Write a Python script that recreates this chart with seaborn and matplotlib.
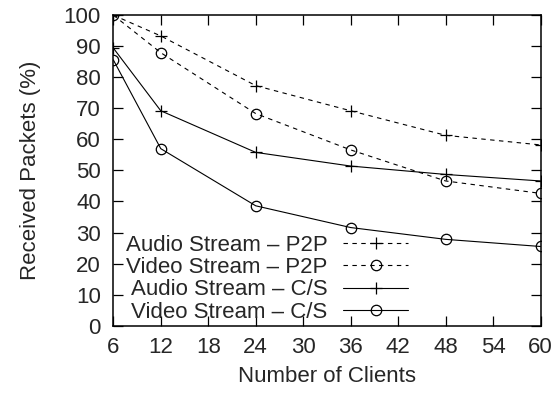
import matplotlib
matplotlib.use("Agg")
import matplotlib.pyplot as plt
import seaborn as sns
import pandas as pd

clients = [6, 12, 24, 36, 48, 60]
audio_p2p = [100, 93.3, 77.3, 69.2, 61.3, 58.2]
video_p2p = [100, 87.9, 68.3, 56.6, 46.6, 42.6]
audio_cs = [89.4, 69.2, 55.8, 51.4, 48.7, 46.6]
video_cs = [85.6, 57.0, 38.6, 31.6, 27.8, 25.5]
labels = ["Audio Stream \u2013 P2P", "Video Stream \u2013 P2P",
          "Audio Stream \u2013 C/S", "Video Stream \u2013 C/S"]
xticks = [6, 12, 18, 24, 30, 36, 42, 48, 54, 60]
yticks = list(range(0, 101, 10))

sns.set_style("ticks")
plt.rcParams['font.family'] = ['Liberation Sans', 'DejaVu Sans']
plt.rcParams['font.size'] = 16

fig = plt.figure(figsize=(5.59, 3.98), dpi=100)
ax = fig.add_axes([0.2027, 0.1817, 0.967 - 0.2027, 0.962 - 0.1817])

series = [audio_p2p, video_p2p, audio_cs, video_cs]
markers = ['+', 'o', '+', 'o']
styles = [(0, (4, 4)), (0, (4, 4)), '-', '-']
for vals, lab, mk, ls in zip(series, labels, markers, styles):
    df = pd.DataFrame({"x": clients, "y": vals})
    sns.lineplot(data=df, x="x", y="y", ax=ax, color="black", lw=0.8,
                 linestyle=ls, marker=mk, markersize=8 if mk == '+' else 7.5,
                 markerfacecolor='none', markeredgecolor='black',
                 markeredgewidth=0.9, label=lab)

ax.set_xlim(6, 60)
ax.set_ylim(0, 100)
ax.set_xticks(xticks)
ax.set_yticks(yticks)
ax.tick_params(direction='in', length=7, width=0.9, top=True, right=True,
               labelsize=16, color='black')
ax.tick_params(axis='x', pad=8)
ax.tick_params(axis='y', pad=9)
for s in ax.spines.values():
    s.set_linewidth(1.1)
    s.set_color('black')
ax.set_xlabel("Number of Clients", fontsize=16, labelpad=6)
ax.set_ylabel("Received Packets (%)", fontsize=16, labelpad=16)

leg = ax.legend(loc='center right', bbox_to_anchor=(0.6895, 0.151), frameon=False,
                markerfirst=False, handlelength=2.9, handletextpad=0.72,
                labelspacing=0.06, fontsize=16, borderaxespad=0, borderpad=0)

fig.savefig("out.png", dpi=100)
